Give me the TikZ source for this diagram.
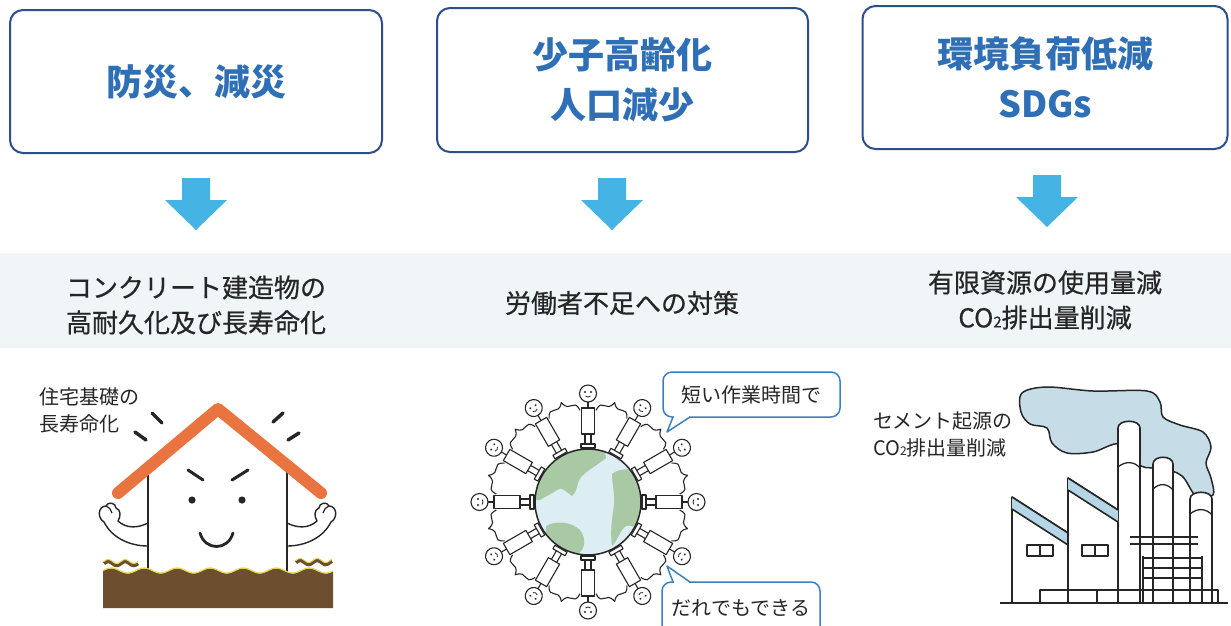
\documentclass[tikz,border=0pt]{standalone}
\usepackage{fontspec}
\newfontfamily\jp{Noto Sans CJK JP}
\newfontfamily\jpm[FakeBold=0.6]{Noto Sans CJK JP}
\usetikzlibrary{calc}

\definecolor{boxline}{HTML}{2C4E8E}
\definecolor{titleblue}{HTML}{2F6FB6}
\definecolor{arrowblue}{HTML}{45B4E4}
\definecolor{bandcol}{HTML}{F0F5F8}
\definecolor{roofcol}{HTML}{EA7440}
\definecolor{soil}{HTML}{6B4F2E}
\definecolor{soilline}{HTML}{E6D54A}
\definecolor{sea}{HTML}{DDEDF4}
\definecolor{land}{HTML}{A9C9A5}
\definecolor{bubbleline}{HTML}{3C7FC2}
\definecolor{smoke}{HTML}{C6DDE8}
\definecolor{glass}{HTML}{B5D6E6}
\definecolor{ink}{HTML}{262626}

\tikzset{
  topbox/.style={draw=boxline, line width=2pt, rounded corners=13pt, fill=white,
    text=titleblue, align=center, inner sep=0pt,
    font=\jp\bfseries\fontsize{36}{50}\selectfont},
  bandtext/.style={text=ink, align=center, inner sep=0pt,
    font=\jpm\fontsize{26}{35}\selectfont},
  smalllabel/.style={text=ink, align=left, inner sep=0pt,
    font=\jp\fontsize{20}{27}\selectfont},
  bubble/.style={draw=bubbleline, line width=1.5pt, rounded corners=9pt, fill=white,
    text=ink, inner sep=0pt, font=\jp\fontsize{20}{24}\selectfont},
  downarrow/.pic={\fill[arrowblue] (-14,0) -- (14,0) -- (14,22) -- (31,22) -- (0,52)
    -- (-31,22) -- (-14,22) -- cycle;},
  outline/.style={draw=ink, line width=1.6pt, line join=round},
  figline/.style={draw=ink, line width=1.1pt, line join=round},
  dashmark/.style={draw=ink, line width=3.5pt, line cap=round},
}

\begin{document}
\begin{tikzpicture}[x=1pt, y=-1pt]
\useasboundingbox (0,0) rectangle (1231,625);
\fill[white] (0,0) rectangle (1231,625);

% ---------- headline boxes ----------
\node[topbox, minimum width=372, minimum height=143] (t1) at (196,81.5) {防災、減災};
\node[topbox, minimum width=371, minimum height=144] (t2) at (622.5,80) {少子高齢化\\人口減少};
\node[topbox, minimum width=365, minimum height=143] (t3) at (1045,77.5) {環境負荷低減\\SDGs};

% ---------- block arrows ----------
\pic at (196,178) {downarrow};
\pic at (612,178) {downarrow};
\pic at (1047,175) {downarrow};

% ---------- band with the measures ----------
\fill[bandcol] (0,253) rectangle (1231,348);
\node[bandtext] (m1) at (196,305) {コンクリート建造物の\\高耐久化及び長寿命化};
\node[bandtext] (m2) at (622,303) {労働者不足への対策};
\node[bandtext] (m3) at (1045,300) {有限資源の使用量減\\CO{\fontsize{15}{15}\selectfont 2}排出量削減};

% ---------- house ----------
\node[smalllabel, anchor=north west] (hl) at (39,387) {住宅基礎の\\長寿命化};

% arms
\draw[outline, fill=white, line width=1.4pt]
  (148,523) .. controls (138,528) and (127,529) .. (118,521)
  .. controls (121,516) and (121,510) .. (116,508)
  .. controls (116,503) and (108,501) .. (106,506)
  .. controls (98,506) and (97,518) .. (104,522)
  .. controls (112,538) and (130,546) .. (148,546);
\draw[outline, line width=1.2pt] (106,506) .. controls (110,508) and (111,510) .. (112,513);
\begin{scope}[xshift=435pt, xscale=-1]
\draw[outline, fill=white, line width=1.4pt]
  (148,523) .. controls (138,528) and (127,529) .. (118,521)
  .. controls (121,516) and (121,510) .. (116,508)
  .. controls (116,503) and (108,501) .. (106,506)
  .. controls (98,506) and (97,518) .. (104,522)
  .. controls (112,538) and (130,546) .. (148,546);
\draw[outline, line width=1.2pt] (106,506) .. controls (110,508) and (111,510) .. (112,513);
\end{scope}

% walls
\draw[outline, line width=1.4pt] (148,470) -- (148,572);
\draw[outline, line width=1.4pt] (287,470) -- (287,572);

% ground
\fill[soil] (103,608) -- plot[domain=103:333, samples=120]
  (\x,{571-2.5*sin((\x-103)/33*360)}) -- (333,608) -- cycle;
\draw[soilline, line width=1.2pt] plot[domain=103:333, samples=120]
  (\x,{570.5-2.5*sin((\x-103)/33*360)});
\draw[soil, line width=3.5pt] plot[domain=104:138, samples=40] (\x,{563.5-2*sin((\x-104)/17*360)});
\draw[soilline, line width=1pt] plot[domain=104:138, samples=40] (\x,{561.5-2*sin((\x-104)/17*360)});
\draw[soil, line width=3.5pt] plot[domain=296:332, samples=40] (\x,{562.5-2*sin((\x-296)/17*360)});
\draw[soilline, line width=1pt] plot[domain=296:332, samples=40] (\x,{560.5-2*sin((\x-296)/17*360)});

% roof
\draw[roofcol, line width=12pt, line cap=round, line join=round]
  (118,493) -- (218,409) -- (321,493);

% face
\fill[ink] (192,500) circle (3.6) (242,500) circle (3.6);
\draw[ink, line width=3pt, line cap=round] (188,470) -- (203,480);
\draw[ink, line width=3pt, line cap=round] (232,480) -- (248,470);
\draw[ink, line width=2.8pt, line cap=round] (200,533) .. controls (205,551) and (228,551) .. (233,533);

% excitement marks
\draw[dashmark] (135,432) -- (146,440);
\draw[dashmark] (152,413) -- (162,423);
\draw[dashmark] (273,422) -- (283,413);
\draw[dashmark] (288,440) -- (299,433);

% ---------- globe with people ----------
\coordinate (gc) at (588,502);
\begin{scope}[shift={(588,502)}]
  % linked arms
  \foreach \a in {0,30,...,330} {
    \draw[figline]
      ({\a+5}:92) .. controls ({\a+8}:106) and ({\a+11}:90) .. ({\a+15}:103)
      .. controls ({\a+19}:90) and ({\a+22}:106) .. ({\a+25}:92);
  }
\end{scope}
\begin{scope}
  \clip (588,502) circle (53);
  \fill[sea] (588,502) circle (53);
  \fill[land] (528,440) -- (603,440) -- (606,458) .. controls (596,466) and (588,470) .. (582,476)
    .. controls (576,482) and (578,492) .. (572,496) .. controls (566,492) and (562,486) .. (557,490)
    .. controls (552,494) and (546,496) .. (540,500) -- (528,500) -- cycle;
  \fill[land] (612,474) .. controls (622,466) and (640,468) .. (648,480) -- (648,535)
    .. controls (640,530) and (632,524) .. (626,526) .. controls (620,530) and (618,540) .. (612,546)
    .. controls (610,532) and (612,518) .. (614,505) .. controls (615,494) and (612,484) .. (612,474) -- cycle;
  \fill[land] (546,526) .. controls (556,520) and (572,522) .. (580,530)
    .. controls (586,538) and (586,548) .. (578,554) .. controls (566,556) and (552,550) .. (546,540) -- cycle;
\end{scope}
\draw[outline, line width=1.5pt] (588,502) circle (53) node (globe) {};
\begin{scope}[shift={(588,502)}]
  \foreach \a in {0,30,...,330} {
    \begin{scope}[rotate=\a]
      \draw[figline, fill=white] (54,-7) rectangle (58,7);
      \draw[figline] (58,-3) -- (68,-3) (58,3) -- (68,3);
      \draw[figline, fill=white] (68,-6.5) rectangle (94,6.5);
      \draw[figline] (94,0) -- (100,0);
      \draw[figline, fill=white] (108.5,0) circle (8.5);
      \fill[ink] (110,-3) circle (1.1) (110,3) circle (1.1);
      \draw[figline, line width=0.8pt] (106,-2.5) .. controls (104.5,-1) and (104.5,1) .. (106,2.5);
    \end{scope}
  }
\end{scope}

% speech bubbles
\node[bubble, minimum width=177, minimum height=45] (s1) at (751.5,394.5) {短い作業時間で};
\fill[white] (674,415) rectangle (689,419);
\draw[bubbleline, line width=1.5pt, line join=round] (673,417) -- (667,432) -- (690,417);

\begin{scope}
  \clip (0,0) rectangle (1231,625);
  \node[bubble, minimum width=158, minimum height=54, text depth=0pt] (s2) at (741,609) {\raisebox{2pt}{だれでもできる}};
  \fill[white] (674,580) rectangle (689,584);
  \draw[bubbleline, line width=1.5pt, line join=round] (673,582) -- (667,566) -- (690,582);
\end{scope}

% ---------- factory ----------
\node[smalllabel, anchor=north west] (fl) at (873,412) {セメント起源の\\CO{\fontsize{12}{12}\selectfont 2}排出量削減};

% smoke
\draw[outline, fill=smoke, line width=1.5pt] plot[smooth cycle, tension=0.55] coordinates {
  (1022,393) (1047,387) (1093,391) (1147,391) (1160,402) (1163,417) (1180,425)
  (1203,432) (1211,447) (1206,463) (1211,478) (1213,495) (1196,496) (1182,476)
  (1162,468) (1141,466) (1120,444) (1093,452) (1067,453) (1052,443) (1047,428)
  (1030,424) (1021,412)};

% chimneys
\draw[outline, fill=white] (1118,603) -- (1118,428) .. controls (1118,419) and (1140,419) .. (1140,428) -- (1140,603);
\draw[outline, fill=white] (1153,603) -- (1153,464) .. controls (1153,455) and (1173,455) .. (1173,464) -- (1173,603);
\draw[outline, fill=white] (1190,603) -- (1190,499) .. controls (1190,490) and (1212,490) .. (1212,499) -- (1212,603);
\draw[outline, line width=1.3pt] (1118,467) .. controls (1125,461) and (1134,461) .. (1140,468);
\draw[outline, line width=1.3pt] (1153,489) .. controls (1159,483) and (1167,483) .. (1173,490);
\draw[outline, line width=1.3pt] (1190,514) .. controls (1197,508) and (1206,508) .. (1212,515);

% saw-tooth halls
\draw[outline, fill=white] (1012,603) -- (1012,497) -- (1068,533) -- (1068,603);
\fill[glass] (1012,497) -- (1068,533) -- (1068,545) -- (1012,509) -- cycle;
\draw[outline] (1012,497) -- (1068,533) (1012,509) -- (1068,545);
\draw[outline, fill=white] (1068,603) -- (1068,478) -- (1118,510) -- (1118,603);
\fill[glass] (1068,478) -- (1118,510) -- (1118,522) -- (1068,490) -- cycle;
\draw[outline] (1068,478) -- (1118,510) (1068,490) -- (1118,522);

% windows
\draw[outline, line width=1.4pt] (1027,545) rectangle (1053,556) (1040,545) -- (1040,556);
\draw[outline, line width=1.4pt] (1082,545) rectangle (1108,556) (1095,545) -- (1095,556);

% scaffolding
\foreach \yy in {537,544} \draw[outline, line width=2pt] (1130,\yy) -- (1198,\yy);
\foreach \yy in {558,568,578} \draw[outline, line width=2pt] (1143,\yy) -- (1203,\yy);
\draw[outline, line width=1.4pt] (1143,556) -- (1143,603);
\draw[outline, line width=1.4pt] (1202,556) -- (1202,603);

% plinth and ground
\draw[outline, line width=1.4pt] (1040,603) -- (1040,590) -- (1218,590) -- (1218,603);
\draw[outline, line width=1.4pt] (1097,590) -- (1097,603);
\draw[outline, line width=2.6pt] (1000,603) -- (1228,603);

\end{tikzpicture}
\end{document}
